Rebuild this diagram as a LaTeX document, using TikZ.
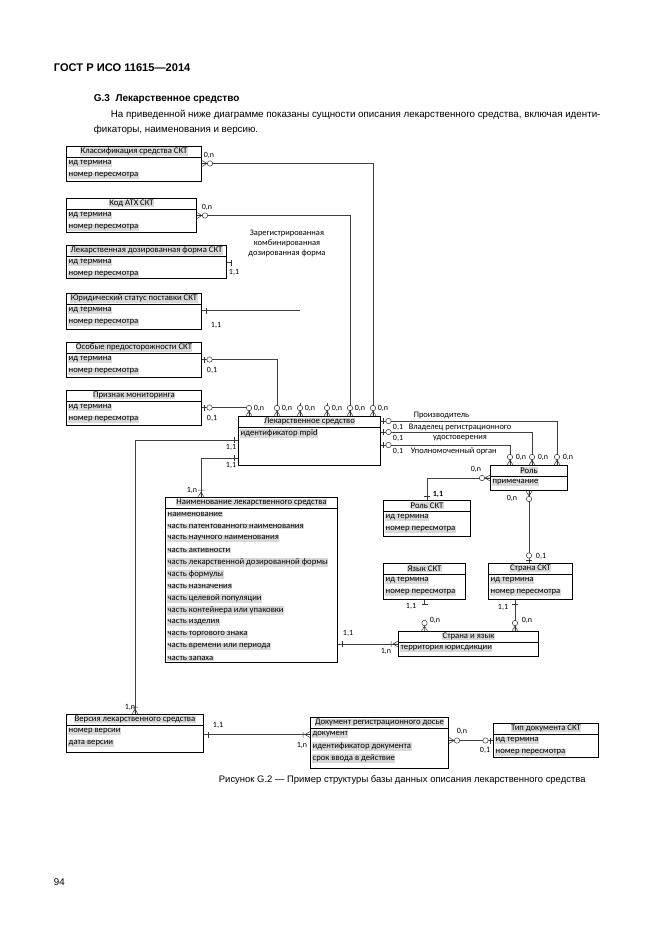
\documentclass[tikz,border=0pt]{standalone}
\usepackage{fontspec}
\setmainfont{Liberation Sans}
\newfontfamily\diafont{Carlito}
\usetikzlibrary{calc}

\tikzset{
  ent/.style={draw, line width=0.9pt, inner sep=0pt},
  enttitle/.style={font=\diafont\fontsize{7.8}{8}\selectfont, fill=black!15, inner sep=0.4pt},
  entrow/.style={anchor=west, font=\diafont\fontsize{7.8}{8}\selectfont, fill=black!15, inner sep=0.4pt},
  link/.style={draw=black!75, line width=0.4pt},
  mk/.style={draw=black!80, line width=0.45pt},
  card/.style={font=\diafont\fontsize{7.2}{8}\selectfont, inner sep=0.5pt},
  rel/.style={font=\diafont\fontsize{7.6}{9}\selectfont, inner sep=0.5pt},
  pics/zmany/.style={code={\draw[mk] (0,-3)--(5,0) (0,0)--(5,0) (0,3)--(5,0);
    \draw[mk,fill=white] (8,0) circle[radius=2.7];}},
  pics/zone/.style={code={\draw[mk] (2.5,-3)--(2.5,3);
    \draw[mk,fill=white] (7.5,0) circle[radius=2.7];}},
  pics/omany/.style={code={\draw[mk] (0,-3)--(5,0) (0,0)--(5,0) (0,3)--(5,0) (7,-3)--(7,3);}},
  pics/oone/.style={code={\draw[mk] (4,-3)--(4,3);}}
}

% entity: name, top left, width, height, title, rows
\newcommand{\entity}[6]{%
  \node[ent, minimum width=#3*0.9pt, minimum height=#4*0.9pt, anchor=north west] (#1) at (#2) {};
  \node[enttitle] (#1-t) at ($(#1.north)+(0,5.5)$) {#5};
  \draw[line width=0.9pt] ($(#1.north west)+(0,11)$) -- ($(#1.north east)+(0,11)$);
  \foreach \r [count=\i] in {#6}
    \node[entrow] (#1-\i) at ($(#1.north west)+(2,5.5+12*\i)$) {\r};
}

\begin{document}
\begin{tikzpicture}[x=0.9pt,y=-0.9pt]
\useasboundingbox (0,0) rectangle (661,936);

% page text
\node[anchor=west, font=\bfseries\fontsize{10}{12}\selectfont] (gost) at (50,68) {ГОСТ Р ИСО 11615—2014};
\node[anchor=west, font=\bfseries\fontsize{9}{11}\selectfont] (sec) at (90,99) {G.3\ \ Лекарственное средство};
\node[anchor=west, font=\fontsize{8.8}{11}\selectfont] (par1) at (107,115) {На приведенной ниже диаграмме показаны сущности описания лекарственного средства, включая иденти-};
\node[anchor=west, font=\fontsize{8.8}{11}\selectfont] (par2) at (90,130) {фикаторы, наименования и версию.};

% entities
\entity{klass}{66,146}{135}{35}{Классификация средства СКТ}{ид термина,номер пересмотра}
\entity{atx}{66,198}{130}{34}{Код АТХ СКТ}{ид термина,номер пересмотра}
\entity{dform}{66,245}{160}{33}{Лекарственная дозированная форма СКТ}{ид термина,номер пересмотра}
\entity{legal}{66,293}{135}{36}{Юридический статус поставки СКТ}{ид термина,номер пересмотра}
\entity{caution}{66,342}{135}{35}{Особые предосторожности СКТ}{ид термина,номер пересмотра}
\entity{monitor}{66,390}{135}{35}{Признак мониторинга}{ид термина,номер пересмотра}
\entity{main}{238,416}{142}{49}{Лекарственное средство}{идентификатор mpid}
\entity{role}{490,465}{77}{25}{Роль}{примечание}
\entity{rolect}{383,500}{87}{36}{Роль СКТ}{ид термина,номер пересмотра}
\entity{lang}{383,563}{82}{36}{Язык СКТ}{ид термина,номер пересмотра}
\entity{country}{488,563}{84}{36}{Страна СКТ}{ид термина,номер пересмотра}
\entity{cl}{398,631}{140}{25}{Страна и язык}{территория юрисдикции}
\entity{name}{165,497}{172}{165}{Наименование лекарственного средства}{наименование,часть патентованного наименования,часть научного наименования,часть активности,часть лекарственной дозированной формы,часть формулы,часть назначения,часть целевой популяции,часть контейнера или упаковки,часть изделия,часть торгового знака,часть времени или периода,часть запаха}
\entity{version}{66,714}{137}{38}{Версия лекарственного средства}{номер версии,дата версии}
\entity{doc}{310,717}{138}{51}{Документ регистрационного досье}{документ,идентификатор документа,срок ввода в действие}
\entity{doctype}{493,723}{105}{34}{Тип документа СКТ}{ид термина,номер пересмотра}

% connection points
\foreach \n/\dx in {1/11,2/39,3/62,4/89,5/112,6/135}
  \coordinate (mt\n) at ($(main.north west)+(\dx,0)$);
\foreach \n/\dy in {1/5,2/16,3/29}
  \coordinate (mr\n) at ($(main.north east)+(0,\dy)$);
\foreach \n/\dy in {1/24,2/42}
  \coordinate (ml\n) at ($(main.north west)+(0,\dy)$);
\foreach \n/\dx in {1/20,2/42,3/67}
  \coordinate (rt\n) at ($(role.north west)+(\dx,0)$);
\coordinate (nametop) at ($(name.north west)+(36,0)$);
\coordinate (cb) at ($(country.south west)+(27,0)$);

% links into the top of main
\draw[link] (klass.east |- klass-1) -| (mt6);
\draw[link] (atx.east |- atx-1) -| (mt5);
\draw[link] (dform.east |- dform-1) -- ++(4,0);
\draw[link] (mt4) -- ++(0,-13);
\draw[link] (legal.east |- legal-1) -- (mt3 |- legal-1);
\draw[link] (mt3) -- ++(0,-13);
\draw[link] (caution.east |- caution-1) -| (mt2);
\draw[link] (monitor.east |- monitor-1) -| (mt1);
\pic at (klass.east |- klass-1) {zmany};
\pic at (atx.east |- atx-1) {zmany};
\pic at (dform.east |- dform-1) {oone};
\pic at (legal.east |- legal-1) {oone};
\pic at (caution.east |- caution-1) {zone};
\pic at (monitor.east |- monitor-1) {zone};
\foreach \n in {1,...,6} \pic[rotate=90] at (mt\n) {zmany};

% main to role
\draw[link] (mr1) -| (rt3);
\draw[link] (mr2) -| (rt2);
\draw[link] (mr3) -| (rt1);
\foreach \n in {1,2,3} \pic at (mr\n) {zone};
\foreach \n in {1,2,3} \pic[rotate=90] at (rt\n) {zmany};

% main to name and version
\draw[link] (ml1) -| (version.north);
\draw[link] (ml2) -| (nametop);
\foreach \n in {1,2} \pic[rotate=180] at (ml\n) {oone};
\pic[rotate=90] at (version.north) {omany};
\pic[rotate=90] at (nametop) {omany};

% role
\draw[link] (role.west) -| (rolect.north);
\pic[rotate=180] at (role.west) {zmany};
\pic[rotate=90] at (rolect.north) {oone};
\draw[link] (role.south) -- (role.south |- country.north);
\pic[rotate=-90] at (role.south) {zmany};
\pic[rotate=90] at (role.south |- country.north) {zone};

% country and language
\draw[link] (lang.south) -- ++(0,5);
\pic[rotate=-90] at (lang.south) {oone};
\pic[rotate=90] at (lang.south |- cl.north) {zmany};
\draw[link] (cb) -- (cb |- cl.north);
\pic[rotate=-90] at (cb) {oone};
\pic[rotate=90] at (cb |- cl.north) {zmany};
\draw[link] (cl.west) -- (cl.west -| name.east);
\pic[rotate=180] at (cl.west) {omany};
\pic at (cl.west -| name.east) {oone};

% version, document
\draw[link] (version.east |- doc-1) -- (doc.west |- doc-1);
\pic at (version.east |- doc-1) {oone};
\pic[rotate=180] at (doc.west |- doc-1) {omany};
\draw[link] (doc.east |- doctype-1) -- (doctype.west |- doctype-1);
\pic at (doc.east |- doctype-1) {zmany};
\pic[rotate=180] at (doctype.west |- doctype-1) {zone};

% cardinalities
\node[card] (k1) at (209,155) {0,n};
\node[card] (k2) at (207,207) {0,n};
\node[card] (k3) at (234,272) {1,1};
\node[card] (k4) at (216,325) {1,1};
\node[card] (k5) at (212,370) {0,1};
\node[card] (k6) at (212,418) {0,1};
\foreach \n in {1,...,6} \node[card, anchor=west] (kt\n) at ($(mt\n)+(4,-8)$) {0,n};
\node[card] (kl1) at (231,447) {1,1};
\node[card] (kl2) at (231,465) {1,1};
\node[card] (kr1) at (398,427) {0,1};
\node[card] (kr2) at (398,438) {0,1};
\node[card] (kr3) at (398,451) {0,1};
\foreach \n in {1,2,3} \node[card, anchor=west] (kq\n) at ($(rt\n)+(5,-8)$) {0,n};
\node[card] (kro1) at (476,469) {0,n};
\node[card, font=\diafont\bfseries\fontsize{7.2}{8}\selectfont] (kro2) at (438,494) {1,1};
\node[card] (kro3) at (512,498) {0,n};
\node[card] (kco1) at (541,556) {0,1};
\node[card] (kla1) at (411,606) {1,1};
\node[card] (kco2) at (503,607) {1,1};
\node[card] (kcl1) at (435,620) {0,n};
\node[card] (kcl2) at (527,620) {0,n};
\node[card] (kna1) at (348,633) {1,1};
\node[card] (kcl3) at (386,651) {1,n};
\node[card] (kna2) at (192,490) {1,n};
\node[card] (kve1) at (130,707) {1,n};
\node[card] (kve2) at (218,725) {1,1};
\node[card] (kdo1) at (302,745) {1,n};
\node[card] (kdo2) at (462,731) {0,n};
\node[card] (kdt1) at (485,750) {0,1};

% relationship names
\node[rel, align=center] (regform) at (287,243) {Зарегистрированная\\комбинированная\\дозированная форма};
\node[rel, anchor=west] (maker) at (413,415) {Производитель};
\node[rel] (holder1) at (460,427) {Владелец регистрационного};
\node[rel] (holder2) at (460,438) {удостоверения};
\node[rel, anchor=west] (agent) at (410,451) {Уполномоченный орган};

% caption
\node[anchor=west, font=\fontsize{8.5}{11}\selectfont] (cap) at (215,780) {Рисунок G.2 — Пример структуры базы данных описания лекарственного средства};
\node[anchor=west, font=\fontsize{8.8}{11}\selectfont] (page) at (50,882) {94};
\end{tikzpicture}
\end{document}
